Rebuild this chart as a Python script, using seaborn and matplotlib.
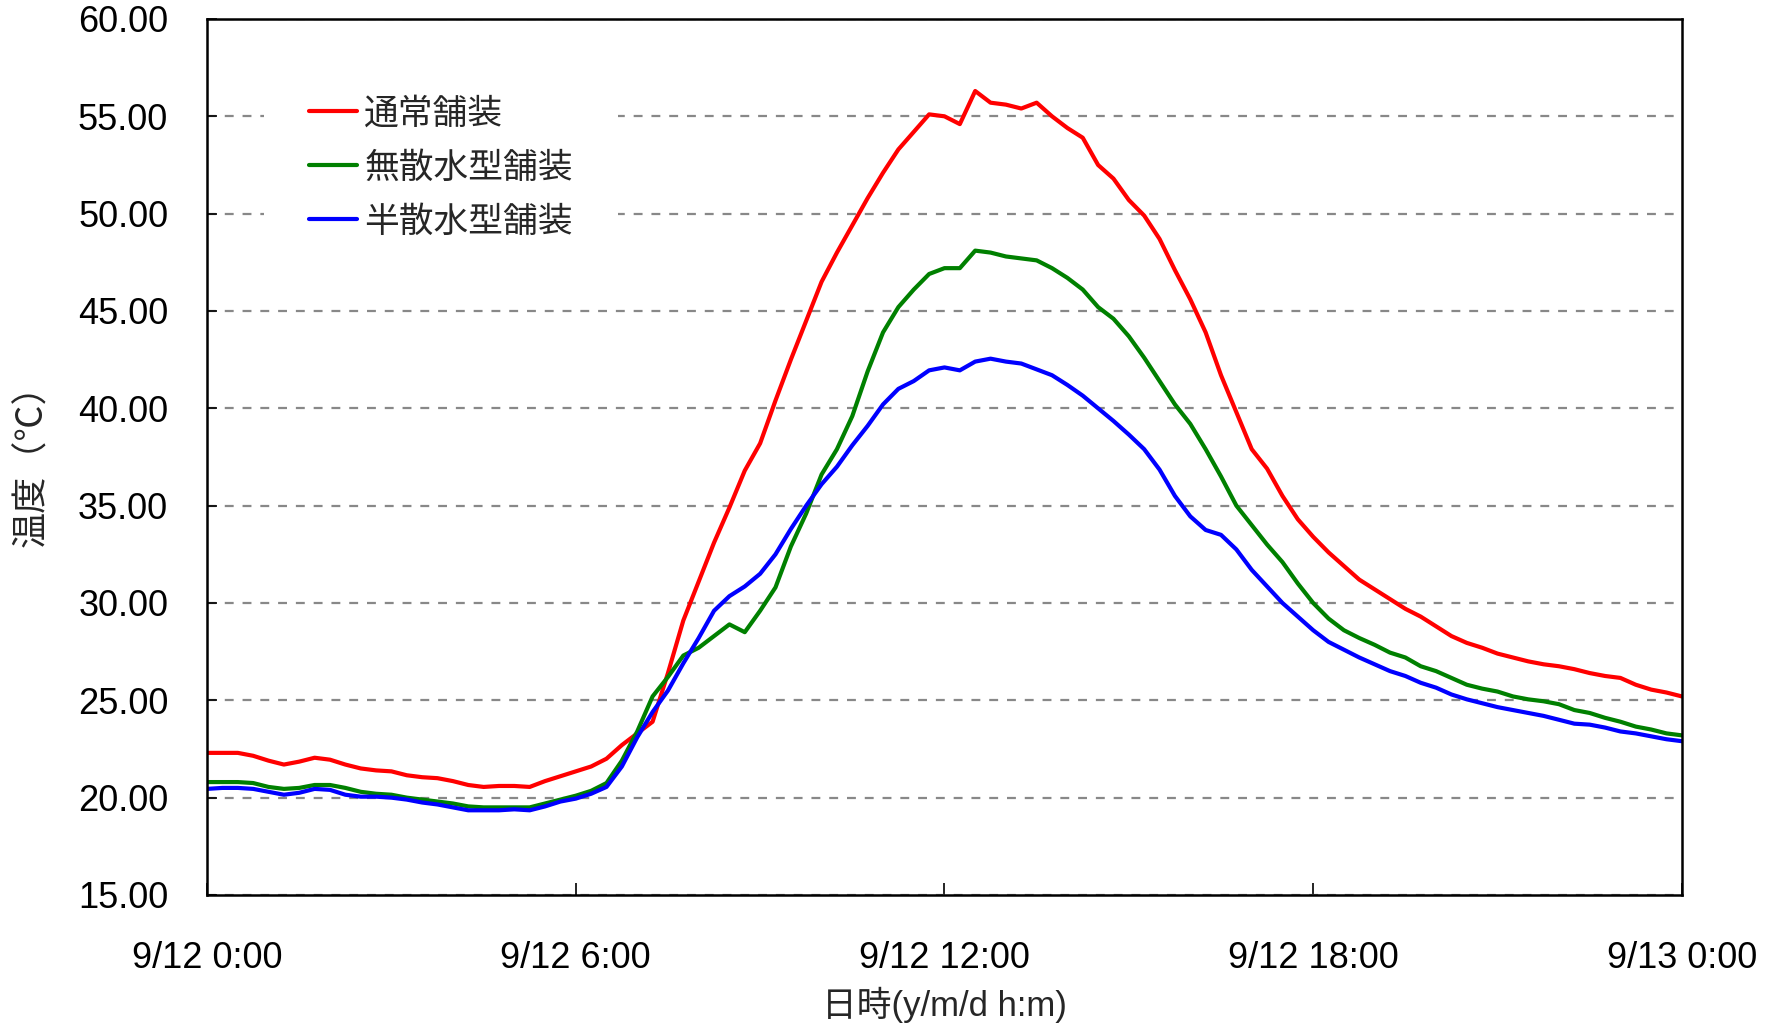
import numpy as np
import pandas as pd
import seaborn as sns
import matplotlib
matplotlib.use("Agg")
import matplotlib.pyplot as plt

# hours since 9/12 0:00, 15 minute steps
hours = [h * 0.25 for h in range(97)]

normal = [22.3, 22.3, 22.3, 22.15, 21.9, 21.7, 21.85, 22.05, 21.95, 21.7,
          21.5, 21.4, 21.35, 21.15, 21.05, 21.0, 20.85, 20.65, 20.55, 20.6,
          20.6, 20.55, 20.85, 21.1, 21.35, 21.6, 22.0, 22.7, 23.3, 23.9,
          26.4, 29.1, 31.1, 33.1, 34.9, 36.8, 38.2, 40.4, 42.5, 44.5,
          46.5, 48.0, 49.4, 50.8, 52.1, 53.3, 54.2, 55.1, 55.0, 54.6,
          56.3, 55.7, 55.6, 55.4, 55.7, 55.0, 54.4, 53.9, 52.5, 51.8,
          50.7, 49.9, 48.7, 47.1, 45.6, 43.9, 41.7, 39.8, 37.9, 36.9,
          35.5, 34.3, 33.4, 32.6, 31.9, 31.2, 30.7, 30.2, 29.7, 29.3,
          28.8, 28.3, 27.95, 27.7, 27.4, 27.2, 27.0, 26.85, 26.75, 26.6,
          26.4, 26.25, 26.15, 25.8, 25.55, 25.4, 25.2]
no_sprinkle = [20.8, 20.8, 20.8, 20.75, 20.55, 20.45, 20.5, 20.65, 20.65, 20.5,
               20.3, 20.2, 20.15, 20.0, 19.9, 19.8, 19.7, 19.55, 19.5, 19.5,
               19.5, 19.5, 19.7, 19.9, 20.1, 20.35, 20.75, 21.9, 23.4, 25.2,
               26.2, 27.3, 27.7, 28.3, 28.9, 28.5, 29.6, 30.8, 32.9, 34.6,
               36.6, 37.9, 39.6, 41.9, 43.9, 45.2, 46.1, 46.9, 47.2, 47.2,
               48.1, 48.0, 47.8, 47.7, 47.6, 47.2, 46.7, 46.1, 45.2, 44.6,
               43.7, 42.6, 41.4, 40.2, 39.2, 37.9, 36.5, 35.0, 34.0, 33.0,
               32.1, 31.0, 30.0, 29.2, 28.6, 28.2, 27.85, 27.45, 27.2, 26.75,
               26.5, 26.15, 25.8, 25.6, 25.45, 25.2, 25.05, 24.95, 24.8, 24.5,
               24.35, 24.1, 23.9, 23.65, 23.5, 23.3, 23.2]
half_sprinkle = [20.45, 20.5, 20.5, 20.45, 20.3, 20.15, 20.25, 20.45, 20.4, 20.15,
                 20.05, 20.05, 20.0, 19.9, 19.75, 19.65, 19.5, 19.35, 19.35, 19.35,
                 19.4, 19.35, 19.55, 19.8, 19.95, 20.2, 20.55, 21.6, 23.1, 24.4,
                 25.5, 26.9, 28.2, 29.6, 30.35, 30.85, 31.5, 32.5, 33.8, 35.0,
                 36.1, 37.0, 38.1, 39.1, 40.2, 41.0, 41.4, 41.95, 42.1, 41.95,
                 42.4, 42.55, 42.4, 42.3, 42.0, 41.7, 41.2, 40.65, 40.0, 39.35,
                 38.65, 37.9, 36.85, 35.5, 34.45, 33.75, 33.5, 32.75, 31.7, 30.85,
                 30.0, 29.3, 28.6, 28.0, 27.6, 27.2, 26.85, 26.5, 26.25, 25.9,
                 25.65, 25.3, 25.05, 24.85, 24.65, 24.5, 24.35, 24.2, 24.0, 23.8,
                 23.75, 23.6, 23.4, 23.3, 23.15, 23.0, 22.9]

labels = ["通常舗装", "無散水型舗装", "半散水型舗装"]
colors = ["#ff0000", "#008000", "#0000ff"]
xtick_labels = ["9/12 0:00", "9/12 6:00", "9/12 12:00", "9/12 18:00", "9/13 0:00"]

df = pd.concat([
    pd.DataFrame({"hour": hours, "temp": vals, "series": name})
    for name, vals in zip(labels, [normal, no_sprinkle, half_sprinkle])
])

sns.set_style("ticks")
plt.rcParams["font.family"] = ["Liberation Sans", "Noto Sans CJK JP"]
cjk = ["Liberation Sans", "Noto Sans CJK JP"]

fig = plt.figure(figsize=(17.76, 10.26), dpi=100)
ax = fig.add_axes([0.1166, 0.1277, 0.8304, 0.8538])

sns.lineplot(data=df, x="hour", y="temp", hue="series", hue_order=labels,
             palette=dict(zip(labels, colors)), linewidth=3.0, ax=ax)

ax.set_xlim(0, 24)
ax.set_ylim(15, 60)
ax.set_xticks([0, 6, 12, 18, 24])
ax.set_xticklabels(xtick_labels)
ax.set_yticks(np.arange(15, 61, 5))
ax.set_yticklabels([f"{v:.2f}" for v in range(15, 61, 5)])
ax.tick_params(axis="both", direction="in", labelsize=26, colors="black", width=1.2)
ax.tick_params(axis="y", length=7, pad=28)
ax.tick_params(axis="x", length=9, pad=33)
ax.yaxis.grid(True, linestyle=(0, (4, 4)), color="#888888", linewidth=1.6)
ax.xaxis.grid(False)
for s in ax.spines.values():
    s.set_color("black")
    s.set_linewidth(1.8)

ax.set_xlabel("日時(y/m/d h:m)", fontsize=25, family=cjk, labelpad=8)
ax.set_ylabel("温度（℃）", fontsize=26, family=["Noto Sans CJK JP"], labelpad=20)

leg = ax.legend(loc="upper left", bbox_to_anchor=(0.0265, 0.983), frameon=True,
                prop={"family": ["Noto Sans CJK JP"], "size": 25},
                handlelength=1.4, handletextpad=0.2, labelspacing=0.55,
                borderpad=1.3, fancybox=False)
leg.get_frame().set_facecolor("white")
leg.get_frame().set_edgecolor("none")
leg.get_frame().set_alpha(1)

fig.savefig("out.png", dpi=100, facecolor="white")
